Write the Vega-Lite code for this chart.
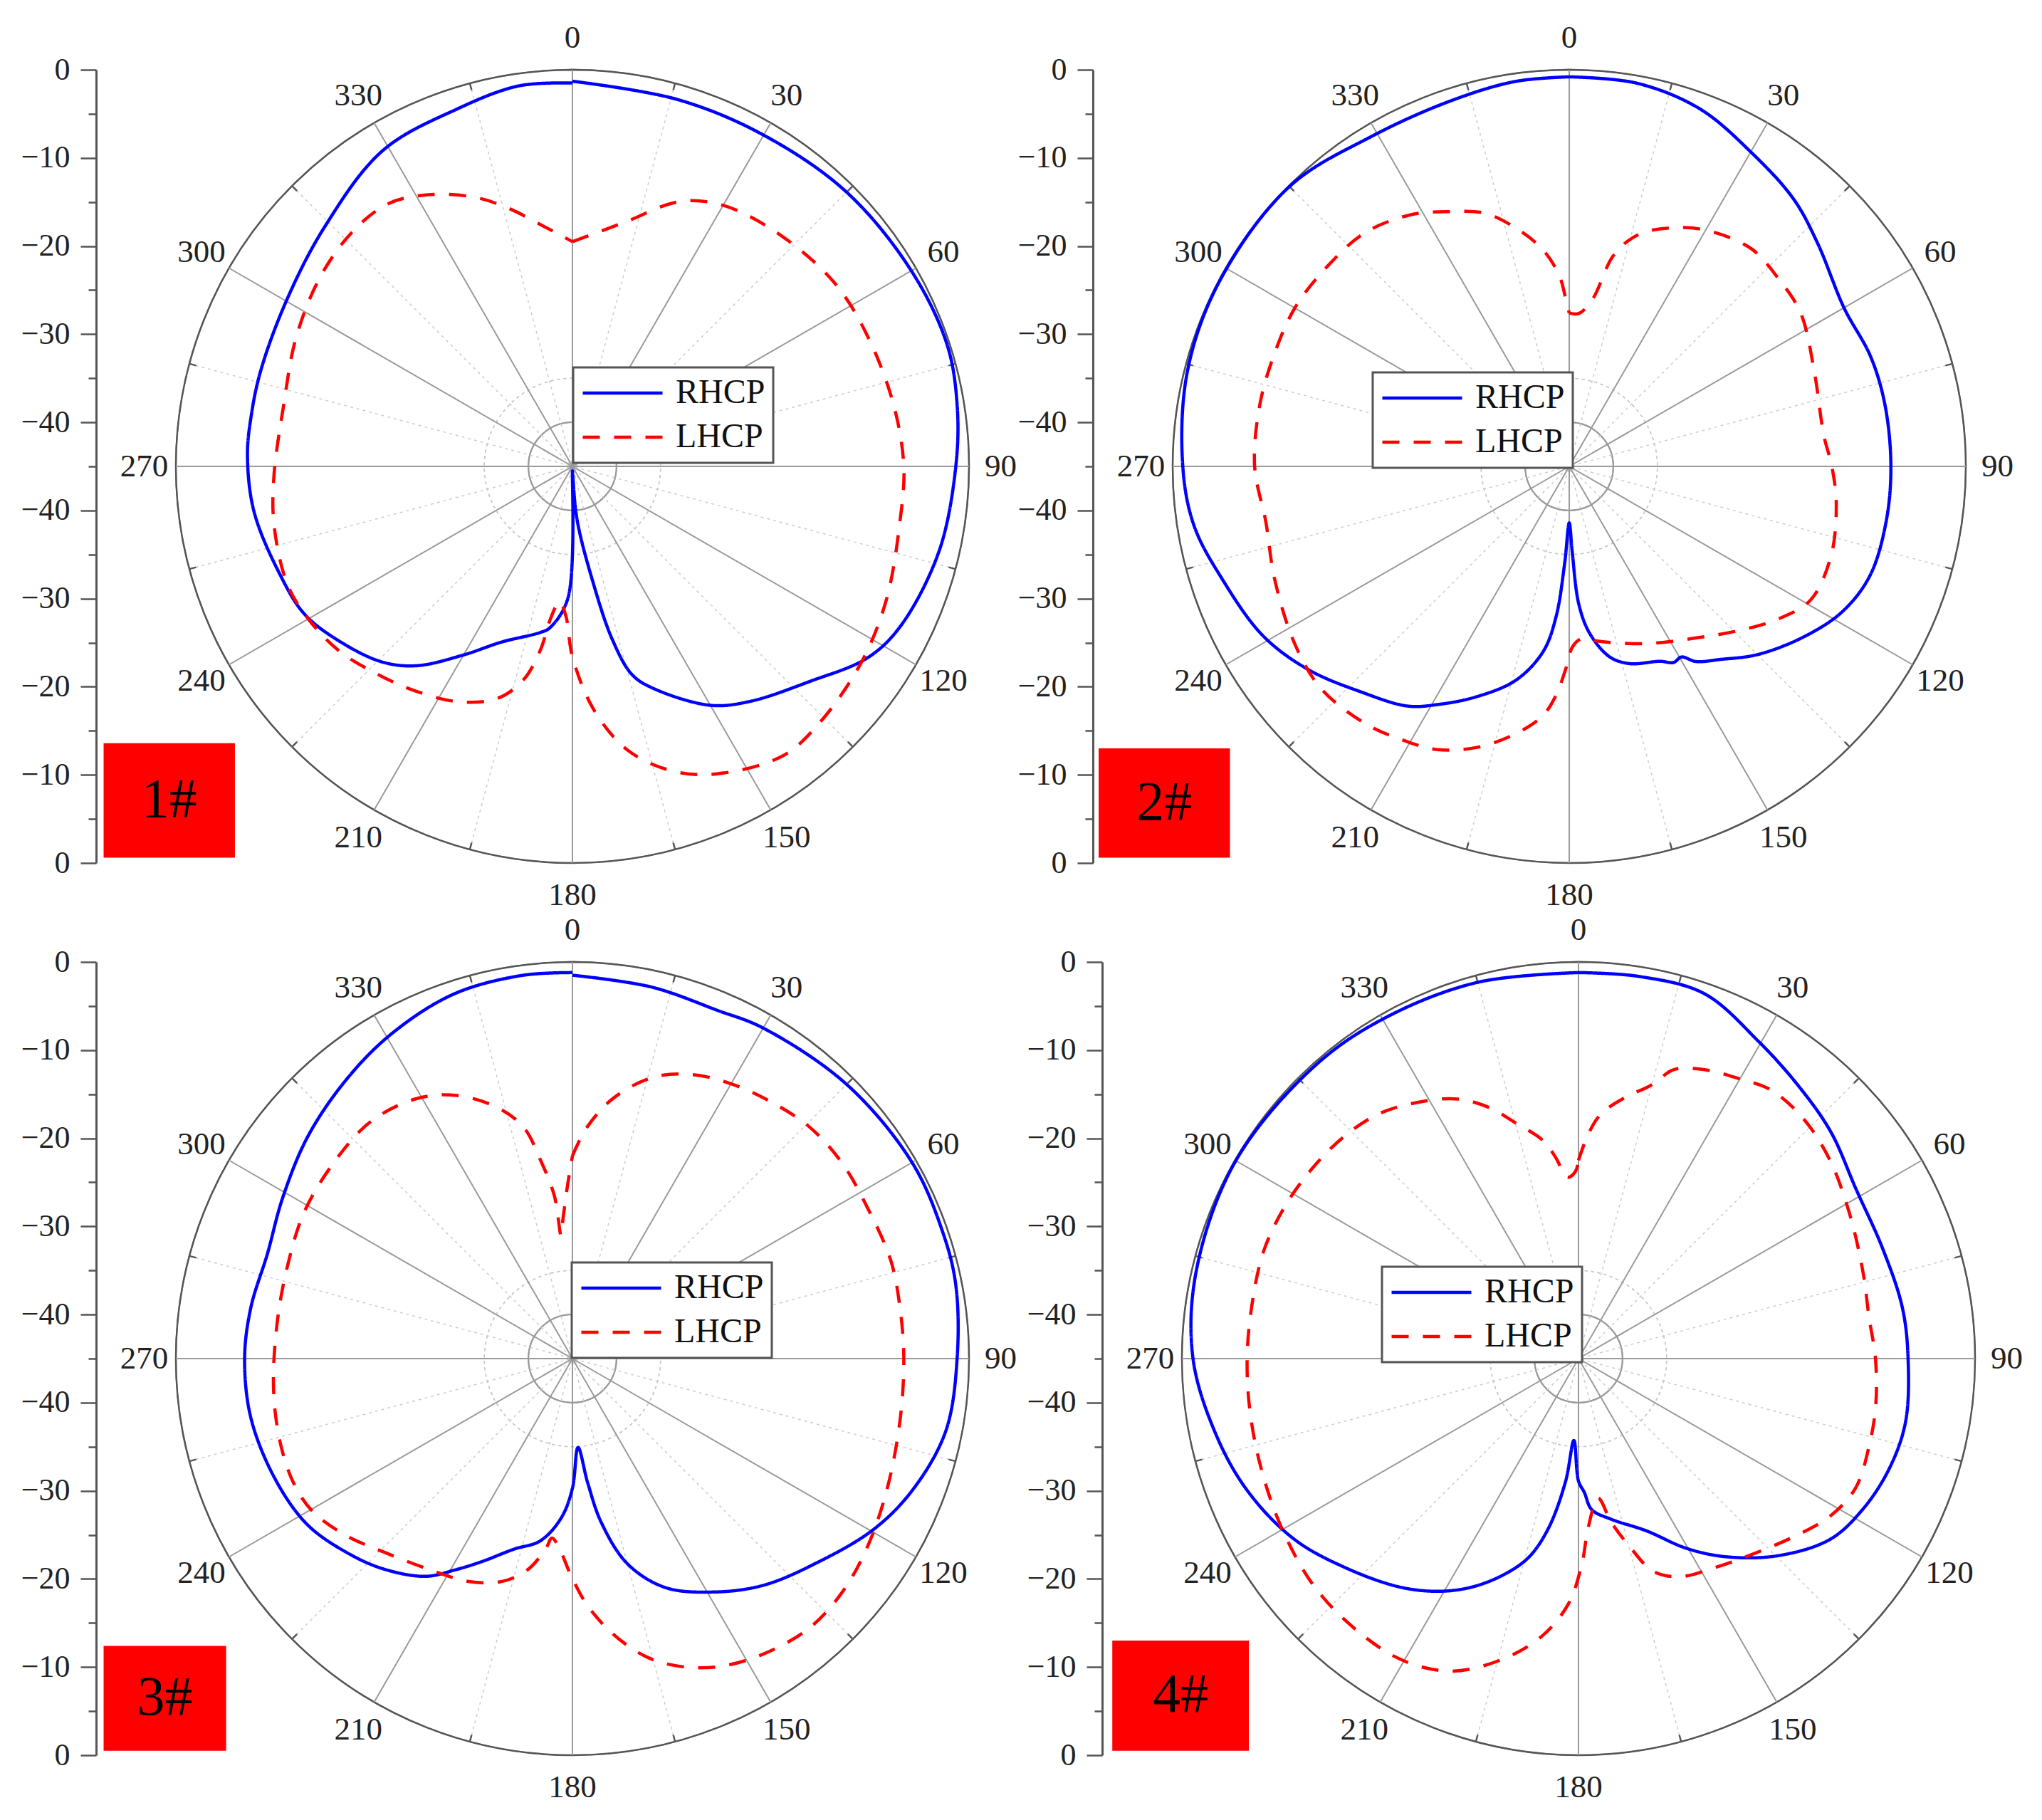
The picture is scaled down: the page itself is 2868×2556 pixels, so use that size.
{
"$schema": "https://vega.github.io/schema/vega-lite/v6.json",
"background": "#ffffff",
"padding": {"left": 29, "top": 31, "right": 5, "bottom": 5},
"config": {
  "view": {"stroke": null},
  "font": "Liberation Serif",
  "legend": {"symbolType": "stroke", "symbolSize": 12544, "symbolStrokeWidth": 4.5, "labelFontSize": 48, "labelFont": "Liberation Serif", "labelColor": "#111111", "labelOffset": 16, "padding": 11, "rowPadding": 12, "clipHeight": 50, "fillColor": "#ffffff", "strokeColor": "#555555", "strokeWidth": 3, "symbolOffset": 0, "labelLimit": 0}
},
"datasets": {
  "rings": [{"db":-40,"k":"solid"},{"db":-35,"k":"dot"},{"db":-30,"k":"solid"},{"db":-25,"k":"dot"},{"db":-20,"k":"solid"},{"db":-15,"k":"dot"},{"db":-10,"k":"solid"},{"db":-5,"k":"dot"},{"db":0,"k":"outer"}],
  "spokes": [{"a":0},{"a":15},{"a":30},{"a":45},{"a":60},{"a":75},{"a":90},{"a":105},{"a":120},{"a":135},{"a":150},{"a":165},{"a":180},{"a":195},{"a":210},{"a":225},{"a":240},{"a":255},{"a":270},{"a":285},{"a":300},{"a":315},{"a":330},{"a":345}],
  "panels": [{"p":1,"name":"1#"},{"p":2,"name":"2#"},{"p":3,"name":"3#"},{"p":4,"name":"4#"}],
  "curves": [
{"p":1,"s":"RHCP","a":0,"g":-1.3},{"p":1,"s":"RHCP","a":16,"g":-1.7},{"p":1,"s":"RHCP","a":30,"g":-1.6},{"p":1,"s":"RHCP","a":45,"g":-1.0},{"p":1,"s":"RHCP","a":60,"g":-0.6},{"p":1,"s":"RHCP","a":72,"g":-0.3},{"p":1,"s":"RHCP","a":81,"g":-0.8},{"p":1,"s":"RHCP","a":90,"g":-1.5},{"p":1,"s":"RHCP","a":103,"g":-2.3},{"p":1,"s":"RHCP","a":116,"g":-3.6},{"p":1,"s":"RHCP","a":123,"g":-5.1},{"p":1,"s":"RHCP","a":132,"g":-8.6},{"p":1,"s":"RHCP","a":143,"g":-11.6},{"p":1,"s":"RHCP","a":150,"g":-13.7},{"p":1,"s":"RHCP","a":160,"g":-18.2},{"p":1,"s":"RHCP","a":164,"g":-20.4},{"p":1,"s":"RHCP","a":167,"g":-24.8},{"p":1,"s":"RHCP","a":170,"g":-31.8},{"p":1,"s":"RHCP","a":175,"g":-38.9},{"p":1,"s":"RHCP","a":178,"g":-44},{"p":1,"s":"RHCP","a":180,"g":-44.5},{"p":1,"s":"RHCP","a":182,"g":-30.0},{"p":1,"s":"RHCP","a":188,"g":-26.5},{"p":1,"s":"RHCP","a":191,"g":-25.8},{"p":1,"s":"RHCP","a":202,"g":-23.5},{"p":1,"s":"RHCP","a":210,"g":-20.3},{"p":1,"s":"RHCP","a":218,"g":-16.3},{"p":1,"s":"RHCP","a":224,"g":-14.1},{"p":1,"s":"RHCP","a":232,"g":-12.2},{"p":1,"s":"RHCP","a":241,"g":-10.3},{"p":1,"s":"RHCP","a":250,"g":-9.6},{"p":1,"s":"RHCP","a":262,"g":-8.5},{"p":1,"s":"RHCP","a":272,"g":-8.1},{"p":1,"s":"RHCP","a":279,"g":-8.1},{"p":1,"s":"RHCP","a":287,"g":-8.0},{"p":1,"s":"RHCP","a":300,"g":-7.5},{"p":1,"s":"RHCP","a":314,"g":-5.9},{"p":1,"s":"RHCP","a":329,"g":-3.2},{"p":1,"s":"RHCP","a":342,"g":-2.4},{"p":1,"s":"RHCP","a":352,"g":-1.4},{"p":1,"s":"RHCP","a":360,"g":-1.5},
{"p":1,"s":"LHCP","a":0,"g":-19.5},{"p":1,"s":"LHCP","a":12,"g":-16.7},{"p":1,"s":"LHCP","a":22,"g":-12.6},{"p":1,"s":"LHCP","a":30,"g":-10.8},{"p":1,"s":"LHCP","a":42,"g":-9.7},{"p":1,"s":"LHCP","a":55,"g":-8.7},{"p":1,"s":"LHCP","a":66,"g":-8.4},{"p":1,"s":"LHCP","a":79,"g":-7.9},{"p":1,"s":"LHCP","a":90,"g":-7.4},{"p":1,"s":"LHCP","a":100,"g":-7.3},{"p":1,"s":"LHCP","a":113,"g":-6.3},{"p":1,"s":"LHCP","a":124,"g":-5.4},{"p":1,"s":"LHCP","a":136,"g":-4.6},{"p":1,"s":"LHCP","a":144,"g":-4.4},{"p":1,"s":"LHCP","a":155,"g":-6.5},{"p":1,"s":"LHCP","a":162,"g":-8.7},{"p":1,"s":"LHCP","a":169,"g":-12.2},{"p":1,"s":"LHCP","a":175,"g":-17.3},{"p":1,"s":"LHCP","a":180,"g":-23.4},{"p":1,"s":"LHCP","a":182.5,"g":-28},{"p":1,"s":"LHCP","a":185.5,"g":-29.6},{"p":1,"s":"LHCP","a":188,"g":-27.8},{"p":1,"s":"LHCP","a":190,"g":-23.7},{"p":1,"s":"LHCP","a":193,"g":-20.1},{"p":1,"s":"LHCP","a":198,"g":-17.3},{"p":1,"s":"LHCP","a":206,"g":-15.3},{"p":1,"s":"LHCP","a":215,"g":-13.9},{"p":1,"s":"LHCP","a":223,"g":-12.7},{"p":1,"s":"LHCP","a":232,"g":-11.2},{"p":1,"s":"LHCP","a":241,"g":-10.3},{"p":1,"s":"LHCP","a":248,"g":-10.0},{"p":1,"s":"LHCP","a":259,"g":-10.5},{"p":1,"s":"LHCP","a":268,"g":-11.1},{"p":1,"s":"LHCP","a":282,"g":-11.5},{"p":1,"s":"LHCP","a":295,"g":-10.4},{"p":1,"s":"LHCP","a":307,"g":-9.2},{"p":1,"s":"LHCP","a":317,"g":-8.5},{"p":1,"s":"LHCP","a":325,"g":-8.6},{"p":1,"s":"LHCP","a":332,"g":-10.1},{"p":1,"s":"LHCP","a":340,"g":-12.5},{"p":1,"s":"LHCP","a":346,"g":-14.8},{"p":1,"s":"LHCP","a":353,"g":-17.5},{"p":1,"s":"LHCP","a":360,"g":-19.5},
{"p":2,"s":"RHCP","a":0,"g":-0.8},{"p":2,"s":"RHCP","a":10,"g":-0.85},{"p":2,"s":"RHCP","a":20,"g":-1.8},{"p":2,"s":"RHCP","a":30,"g":-3.8},{"p":2,"s":"RHCP","a":40,"g":-5.4},{"p":2,"s":"RHCP","a":48,"g":-7.1},{"p":2,"s":"RHCP","a":60,"g":-9.0},{"p":2,"s":"RHCP","a":70,"g":-8.6},{"p":2,"s":"RHCP","a":79,"g":-8.5},{"p":2,"s":"RHCP","a":90,"g":-8.5},{"p":2,"s":"RHCP","a":100,"g":-8.5},{"p":2,"s":"RHCP","a":110,"g":-8.7},{"p":2,"s":"RHCP","a":118,"g":-9.9},{"p":2,"s":"RHCP","a":126,"g":-12.1},{"p":2,"s":"RHCP","a":135,"g":-14.8},{"p":2,"s":"RHCP","a":142,"g":-17.2},{"p":2,"s":"RHCP","a":147,"g":-18.6},{"p":2,"s":"RHCP","a":149.5,"g":-19.9},{"p":2,"s":"RHCP","a":152,"g":-19.8},{"p":2,"s":"RHCP","a":155,"g":-20.6},{"p":2,"s":"RHCP","a":163,"g":-21.6},{"p":2,"s":"RHCP","a":168,"g":-22.9},{"p":2,"s":"RHCP","a":173,"g":-25.9},{"p":2,"s":"RHCP","a":176,"g":-29.3},{"p":2,"s":"RHCP","a":178,"g":-35.3},{"p":2,"s":"RHCP","a":180,"g":-38.6},{"p":2,"s":"RHCP","a":182.7,"g":-34},{"p":2,"s":"RHCP","a":185,"g":-27.9},{"p":2,"s":"RHCP","a":188,"g":-23.8},{"p":2,"s":"RHCP","a":194,"g":-20.0},{"p":2,"s":"RHCP","a":202,"g":-16.8},{"p":2,"s":"RHCP","a":209,"g":-14.1},{"p":2,"s":"RHCP","a":214,"g":-12.2},{"p":2,"s":"RHCP","a":223,"g":-10.1},{"p":2,"s":"RHCP","a":232,"g":-7.5},{"p":2,"s":"RHCP","a":241,"g":-5.3},{"p":2,"s":"RHCP","a":252,"g":-3.6},{"p":2,"s":"RHCP","a":261,"g":-1.9},{"p":2,"s":"RHCP","a":270,"g":-1.15},{"p":2,"s":"RHCP","a":284,"g":-0.35},{"p":2,"s":"RHCP","a":298,"g":-0.1},{"p":2,"s":"RHCP","a":315,"g":-0.1},{"p":2,"s":"RHCP","a":329,"g":-1.35},{"p":2,"s":"RHCP","a":342,"g":-1.4},{"p":2,"s":"RHCP","a":352,"g":-0.9},{"p":2,"s":"RHCP","a":360,"g":-0.8},
{"p":2,"s":"LHCP","a":0,"g":-27.6},{"p":2,"s":"LHCP","a":3.7,"g":-27.6},{"p":2,"s":"LHCP","a":8,"g":-25.8},{"p":2,"s":"LHCP","a":12,"g":-20.4},{"p":2,"s":"LHCP","a":17,"g":-17.4},{"p":2,"s":"LHCP","a":25,"g":-15.1},{"p":2,"s":"LHCP","a":31.5,"g":-13.8},{"p":2,"s":"LHCP","a":40,"g":-12.8},{"p":2,"s":"LHCP","a":48,"g":-13.1},{"p":2,"s":"LHCP","a":56.5,"g":-13.5},{"p":2,"s":"LHCP","a":69,"g":-15.2},{"p":2,"s":"LHCP","a":83,"g":-15.9},{"p":2,"s":"LHCP","a":90,"g":-15.2},{"p":2,"s":"LHCP","a":98,"g":-14.4},{"p":2,"s":"LHCP","a":109,"g":-13.6},{"p":2,"s":"LHCP","a":119,"g":-13.7},{"p":2,"s":"LHCP","a":126,"g":-15.6},{"p":2,"s":"LHCP","a":134,"g":-18.2},{"p":2,"s":"LHCP","a":144,"g":-20.9},{"p":2,"s":"LHCP","a":156,"g":-23.0},{"p":2,"s":"LHCP","a":167,"g":-24.5},{"p":2,"s":"LHCP","a":173.6,"g":-25.2},{"p":2,"s":"LHCP","a":176,"g":-25.4},{"p":2,"s":"LHCP","a":179,"g":-24.5},{"p":2,"s":"LHCP","a":181,"g":-22},{"p":2,"s":"LHCP","a":183.3,"g":-19.0},{"p":2,"s":"LHCP","a":186,"g":-16.6},{"p":2,"s":"LHCP","a":191,"g":-14.2},{"p":2,"s":"LHCP","a":198,"g":-11.5},{"p":2,"s":"LHCP","a":205,"g":-9.55},{"p":2,"s":"LHCP","a":211,"g":-8.7},{"p":2,"s":"LHCP","a":218,"g":-7.8},{"p":2,"s":"LHCP","a":228,"g":-7.2},{"p":2,"s":"LHCP","a":237,"g":-7.9},{"p":2,"s":"LHCP","a":249,"g":-9.2},{"p":2,"s":"LHCP","a":259.5,"g":-10.0},{"p":2,"s":"LHCP","a":270,"g":-9.3},{"p":2,"s":"LHCP","a":281,"g":-9.2},{"p":2,"s":"LHCP","a":290,"g":-9.2},{"p":2,"s":"LHCP","a":300,"g":-9.05},{"p":2,"s":"LHCP","a":310,"g":-9.4},{"p":2,"s":"LHCP","a":319,"g":-9.8},{"p":2,"s":"LHCP","a":328,"g":-11.3},{"p":2,"s":"LHCP","a":335,"g":-13.1},{"p":2,"s":"LHCP","a":341.5,"g":-14.7},{"p":2,"s":"LHCP","a":347.6,"g":-17.4},{"p":2,"s":"LHCP","a":353,"g":-20.2},{"p":2,"s":"LHCP","a":357,"g":-23.3},{"p":2,"s":"LHCP","a":359,"g":-26.3},{"p":2,"s":"LHCP","a":360,"g":-27.6},
{"p":3,"s":"RHCP","a":0,"g":-1.5},{"p":3,"s":"RHCP","a":12,"g":-1.9},{"p":3,"s":"RHCP","a":22.6,"g":-2.2},{"p":3,"s":"RHCP","a":30,"g":-1.7},{"p":3,"s":"RHCP","a":45,"g":-1.0},{"p":3,"s":"RHCP","a":60,"g":-0.5},{"p":3,"s":"RHCP","a":71,"g":-0.6},{"p":3,"s":"RHCP","a":79,"g":-0.7},{"p":3,"s":"RHCP","a":90,"g":-1.35},{"p":3,"s":"RHCP","a":101,"g":-1.85},{"p":3,"s":"RHCP","a":111,"g":-3.6},{"p":3,"s":"RHCP","a":119.5,"g":-5.7},{"p":3,"s":"RHCP","a":130,"g":-8.9},{"p":3,"s":"RHCP","a":140,"g":-11.4},{"p":3,"s":"RHCP","a":149,"g":-14.1},{"p":3,"s":"RHCP","a":158,"g":-17.0},{"p":3,"s":"RHCP","a":165,"g":-20.9},{"p":3,"s":"RHCP","a":170,"g":-26.1},{"p":3,"s":"RHCP","a":173,"g":-30.8},{"p":3,"s":"RHCP","a":176.4,"g":-34.9},{"p":3,"s":"RHCP","a":180,"g":-30.3},{"p":3,"s":"RHCP","a":184,"g":-26.9},{"p":3,"s":"RHCP","a":190,"g":-24.0},{"p":3,"s":"RHCP","a":197,"g":-22.4},{"p":3,"s":"RHCP","a":204,"g":-19.8},{"p":3,"s":"RHCP","a":209,"g":-17.6},{"p":3,"s":"RHCP","a":214,"g":-15.2},{"p":3,"s":"RHCP","a":222,"g":-12.9},{"p":3,"s":"RHCP","a":229.5,"g":-11.2},{"p":3,"s":"RHCP","a":238,"g":-9.5},{"p":3,"s":"RHCP","a":248,"g":-8.6},{"p":3,"s":"RHCP","a":259.5,"g":-7.9},{"p":3,"s":"RHCP","a":270,"g":-7.8},{"p":3,"s":"RHCP","a":279,"g":-8.05},{"p":3,"s":"RHCP","a":289,"g":-8.4},{"p":3,"s":"RHCP","a":299,"g":-7.4},{"p":3,"s":"RHCP","a":310,"g":-5.8},{"p":3,"s":"RHCP","a":321,"g":-4.25},{"p":3,"s":"RHCP","a":331,"g":-2.8},{"p":3,"s":"RHCP","a":342,"g":-1.5},{"p":3,"s":"RHCP","a":352.5,"g":-1.15},{"p":3,"s":"RHCP","a":360,"g":-1.2},
{"p":3,"s":"LHCP","a":0,"g":-22.0},{"p":3,"s":"LHCP","a":3.6,"g":-18.7},{"p":3,"s":"LHCP","a":9,"g":-15.05},{"p":3,"s":"LHCP","a":16,"g":-11.8},{"p":3,"s":"LHCP","a":23,"g":-10.0},{"p":3,"s":"LHCP","a":30,"g":-9.0},{"p":3,"s":"LHCP","a":37.5,"g":-8.2},{"p":3,"s":"LHCP","a":45.6,"g":-7.4},{"p":3,"s":"LHCP","a":54,"g":-7.2},{"p":3,"s":"LHCP","a":63,"g":-7.4},{"p":3,"s":"LHCP","a":73,"g":-7.2},{"p":3,"s":"LHCP","a":82,"g":-7.4},{"p":3,"s":"LHCP","a":90,"g":-7.4},{"p":3,"s":"LHCP","a":100,"g":-7.2},{"p":3,"s":"LHCP","a":112,"g":-6.4},{"p":3,"s":"LHCP","a":122.5,"g":-5.3},{"p":3,"s":"LHCP","a":131,"g":-4.5},{"p":3,"s":"LHCP","a":139,"g":-4.3},{"p":3,"s":"LHCP","a":148,"g":-5.2},{"p":3,"s":"LHCP","a":155,"g":-6.4},{"p":3,"s":"LHCP","a":161,"g":-8.1},{"p":3,"s":"LHCP","a":166,"g":-10.1},{"p":3,"s":"LHCP","a":171.6,"g":-13.4},{"p":3,"s":"LHCP","a":176.6,"g":-17},{"p":3,"s":"LHCP","a":180.4,"g":-20.4},{"p":3,"s":"LHCP","a":183.4,"g":-23},{"p":3,"s":"LHCP","a":186.5,"g":-24.5},{"p":3,"s":"LHCP","a":188,"g":-23.2},{"p":3,"s":"LHCP","a":192,"g":-20.5},{"p":3,"s":"LHCP","a":197.5,"g":-18.5},{"p":3,"s":"LHCP","a":205,"g":-17.1},{"p":3,"s":"LHCP","a":214,"g":-16.1},{"p":3,"s":"LHCP","a":224,"g":-14.4},{"p":3,"s":"LHCP","a":232,"g":-12.4},{"p":3,"s":"LHCP","a":239.5,"g":-10.8},{"p":3,"s":"LHCP","a":246,"g":-10.35},{"p":3,"s":"LHCP","a":254,"g":-10.5},{"p":3,"s":"LHCP","a":264,"g":-10.9},{"p":3,"s":"LHCP","a":276.5,"g":-11.25},{"p":3,"s":"LHCP","a":288,"g":-11.0},{"p":3,"s":"LHCP","a":299,"g":-10.3},{"p":3,"s":"LHCP","a":311,"g":-9.9},{"p":3,"s":"LHCP","a":320,"g":-9.7},{"p":3,"s":"LHCP","a":329,"g":-10.6},{"p":3,"s":"LHCP","a":336,"g":-12.3},{"p":3,"s":"LHCP","a":343,"g":-15.1},{"p":3,"s":"LHCP","a":348,"g":-18.1},{"p":3,"s":"LHCP","a":351,"g":-22.4},{"p":3,"s":"LHCP","a":353.7,"g":-26.5},{"p":3,"s":"LHCP","a":354.7,"g":-31},{"p":3,"s":"LHCP","a":356,"g":-29.3},{"p":3,"s":"LHCP","a":358.4,"g":-25.3},{"p":3,"s":"LHCP","a":360,"g":-22.0},
{"p":4,"s":"RHCP","a":0,"g":-1.2},{"p":4,"s":"RHCP","a":9,"g":-1.1},{"p":4,"s":"RHCP","a":19,"g":-1.2},{"p":4,"s":"RHCP","a":29.5,"g":-3.6},{"p":4,"s":"RHCP","a":38.6,"g":-5.2},{"p":4,"s":"RHCP","a":48,"g":-6.5},{"p":4,"s":"RHCP","a":58.6,"g":-8.1},{"p":4,"s":"RHCP","a":70,"g":-8.3},{"p":4,"s":"RHCP","a":81,"g":-7.8},{"p":4,"s":"RHCP","a":90,"g":-7.6},{"p":4,"s":"RHCP","a":101,"g":-7.2},{"p":4,"s":"RHCP","a":109.6,"g":-7.6},{"p":4,"s":"RHCP","a":118,"g":-8.5},{"p":4,"s":"RHCP","a":125.7,"g":-9.85},{"p":4,"s":"RHCP","a":134.7,"g":-13.2},{"p":4,"s":"RHCP","a":143.4,"g":-17},{"p":4,"s":"RHCP","a":150.4,"g":-20.25},{"p":4,"s":"RHCP","a":158.5,"g":-24.0},{"p":4,"s":"RHCP","a":168.5,"g":-26.4},{"p":4,"s":"RHCP","a":175,"g":-27.8},{"p":4,"s":"RHCP","a":177.5,"g":-29.8},{"p":4,"s":"RHCP","a":180,"g":-31.1},{"p":4,"s":"RHCP","a":183.2,"g":-35.7},{"p":4,"s":"RHCP","a":186,"g":-31.0},{"p":4,"s":"RHCP","a":190,"g":-25.5},{"p":4,"s":"RHCP","a":194,"g":-21.8},{"p":4,"s":"RHCP","a":199,"g":-19.1},{"p":4,"s":"RHCP","a":205,"g":-16.4},{"p":4,"s":"RHCP","a":211,"g":-14.2},{"p":4,"s":"RHCP","a":218,"g":-12.1},{"p":4,"s":"RHCP","a":228,"g":-9.5},{"p":4,"s":"RHCP","a":237.5,"g":-6.8},{"p":4,"s":"RHCP","a":248,"g":-4.6},{"p":4,"s":"RHCP","a":258,"g":-3.0},{"p":4,"s":"RHCP","a":270,"g":-1.26},{"p":4,"s":"RHCP","a":283,"g":-0.5},{"p":4,"s":"RHCP","a":300,"g":-0.1},{"p":4,"s":"RHCP","a":318,"g":-0.3},{"p":4,"s":"RHCP","a":330.5,"g":-0.55},{"p":4,"s":"RHCP","a":345,"g":-0.8},{"p":4,"s":"RHCP","a":360,"g":-1.2},
{"p":4,"s":"LHCP","a":0,"g":-22.5},{"p":4,"s":"LHCP","a":2.5,"g":-19.5},{"p":4,"s":"LHCP","a":5.3,"g":-17.1},{"p":4,"s":"LHCP","a":10.6,"g":-14.7},{"p":4,"s":"LHCP","a":14.2,"g":-13.25},{"p":4,"s":"LHCP","a":15.8,"g":-12.3},{"p":4,"s":"LHCP","a":18.2,"g":-10.5},{"p":4,"s":"LHCP","a":23.8,"g":-9.2},{"p":4,"s":"LHCP","a":29.75,"g":-8.4},{"p":4,"s":"LHCP","a":35.7,"g":-7.5},{"p":4,"s":"LHCP","a":43.3,"g":-7.7},{"p":4,"s":"LHCP","a":51.7,"g":-8.65},{"p":4,"s":"LHCP","a":61.7,"g":-10.1},{"p":4,"s":"LHCP","a":73,"g":-11.25},{"p":4,"s":"LHCP","a":82,"g":-11.7},{"p":4,"s":"LHCP","a":90,"g":-11.3},{"p":4,"s":"LHCP","a":99,"g":-10.85},{"p":4,"s":"LHCP","a":107,"g":-10.55},{"p":4,"s":"LHCP","a":115,"g":-10.3},{"p":4,"s":"LHCP","a":122,"g":-11.3},{"p":4,"s":"LHCP","a":130,"g":-13.4},{"p":4,"s":"LHCP","a":140,"g":-15.6},{"p":4,"s":"LHCP","a":147,"g":-16.7},{"p":4,"s":"LHCP","a":155,"g":-17.7},{"p":4,"s":"LHCP","a":160.6,"g":-19.4},{"p":4,"s":"LHCP","a":165,"g":-23.1},{"p":4,"s":"LHCP","a":168.7,"g":-26.1},{"p":4,"s":"LHCP","a":172,"g":-29},{"p":4,"s":"LHCP","a":176.7,"g":-25.8},{"p":4,"s":"LHCP","a":179,"g":-21.8},{"p":4,"s":"LHCP","a":182.3,"g":-17.2},{"p":4,"s":"LHCP","a":187.4,"g":-13.3},{"p":4,"s":"LHCP","a":194,"g":-9.9},{"p":4,"s":"LHCP","a":202,"g":-6.75},{"p":4,"s":"LHCP","a":210,"g":-5.4},{"p":4,"s":"LHCP","a":218.6,"g":-5.2},{"p":4,"s":"LHCP","a":229,"g":-5.4},{"p":4,"s":"LHCP","a":240,"g":-6.2},{"p":4,"s":"LHCP","a":251,"g":-6.9},{"p":4,"s":"LHCP","a":261,"g":-7.25},{"p":4,"s":"LHCP","a":270,"g":-7.4},{"p":4,"s":"LHCP","a":279,"g":-7.45},{"p":4,"s":"LHCP","a":289,"g":-7.25},{"p":4,"s":"LHCP","a":298,"g":-7.5},{"p":4,"s":"LHCP","a":306,"g":-7.9},{"p":4,"s":"LHCP","a":314,"g":-8.4},{"p":4,"s":"LHCP","a":321,"g":-9.2},{"p":4,"s":"LHCP","a":328,"g":-10.7},{"p":4,"s":"LHCP","a":335,"g":-12.5},{"p":4,"s":"LHCP","a":340.6,"g":-14.85},{"p":4,"s":"LHCP","a":345,"g":-17.3},{"p":4,"s":"LHCP","a":350.7,"g":-19.9},{"p":4,"s":"LHCP","a":353.5,"g":-22.0},{"p":4,"s":"LHCP","a":356.5,"g":-24.4},{"p":4,"s":"LHCP","a":359,"g":-23.8},{"p":4,"s":"LHCP","a":360,"g":-22.5}
  ]
},
"columns": 2,
"bounds": "flush",
"spacing": {"row": 139, "column": 62},
"resolve": {"scale": {"x": "independent", "y": "independent", "color": "independent", "strokeDash": "independent", "radius": "independent"}, "legend": {"color": "independent", "strokeDash": "independent"}, "axis": {"x": "independent", "y": "independent"}},
"concat": [
{
"width": 1338, "height": 1114,
"resolve": {"axis": {"x": "independent", "y": "independent"}},
"layer": [
{"data": {"name": "rings"}, "transform": [{"filter": "datum.k == 'dot'"}], "mark": {"type": "arc", "filled": false, "stroke": "#c8c8c8", "strokeWidth": 1.5, "strokeDash": [4, 5], "theta": 0, "theta2": 6.2832}, "encoding": {"x": {"datum": 0, "type": "quantitative", "scale": {"domain": [-54.05, 54.05], "nice": false, "zero": false}, "axis": null}, "y": {"datum": 0, "type": "quantitative", "scale": {"domain": [-45, 45], "nice": false, "zero": false}, "axis": null}, "radius": {"field": "db", "type": "quantitative", "scale": {"type": "linear", "domain": [-45, 0], "range": [0, 557], "zero": false, "nice": false}}}},
{"data": {"name": "rings"}, "transform": [{"filter": "datum.k == 'solid'"}], "mark": {"type": "arc", "filled": false, "stroke": "#9a9a9a", "strokeWidth": 2, "theta": 0, "theta2": 6.2832}, "encoding": {"x": {"datum": 0, "type": "quantitative", "scale": {"domain": [-54.05, 54.05], "nice": false, "zero": false}, "axis": null}, "y": {"datum": 0, "type": "quantitative", "scale": {"domain": [-45, 45], "nice": false, "zero": false}, "axis": null}, "radius": {"field": "db", "type": "quantitative", "scale": {"type": "linear", "domain": [-45, 0], "range": [0, 557], "zero": false, "nice": false}}}},
{"data": {"name": "rings"}, "transform": [{"filter": "datum.k == 'outer'"}], "mark": {"type": "arc", "filled": false, "stroke": "#555555", "strokeWidth": 2.5, "theta": 0, "theta2": 6.2832}, "encoding": {"x": {"datum": 0, "type": "quantitative", "scale": {"domain": [-54.05, 54.05], "nice": false, "zero": false}, "axis": null}, "y": {"datum": 0, "type": "quantitative", "scale": {"domain": [-45, 45], "nice": false, "zero": false}, "axis": null}, "radius": {"field": "db", "type": "quantitative", "scale": {"type": "linear", "domain": [-45, 0], "range": [0, 557], "zero": false, "nice": false}}}},
{"data": {"name": "spokes"}, "transform": [{"filter": "datum.a % 30 != 0"}, {"calculate": "45 * sin(datum.a * PI / 180)", "as": "ex"}, {"calculate": "45 * cos(datum.a * PI / 180)", "as": "ey"}], "mark": {"type": "rule", "stroke": "#cccccc", "strokeWidth": 1.5, "strokeDash": [4, 5]}, "encoding": {"x": {"field": "ex", "type": "quantitative", "scale": {"domain": [-54.05, 54.05], "nice": false, "zero": false}, "axis": null}, "y": {"field": "ey", "type": "quantitative", "scale": {"domain": [-45, 45], "nice": false, "zero": false}, "axis": null}, "x2": {"datum": 0}, "y2": {"datum": 0}}},
{"data": {"name": "spokes"}, "transform": [{"filter": "datum.a % 30 != 0"}, {"calculate": "45 * sin(datum.a * PI / 180)", "as": "ex"}, {"calculate": "45 * cos(datum.a * PI / 180)", "as": "ey"}, {"calculate": "44.2 * sin(datum.a * PI / 180)", "as": "ix"}, {"calculate": "44.2 * cos(datum.a * PI / 180)", "as": "iy"}], "mark": {"type": "rule", "stroke": "#555555", "strokeWidth": 2.5}, "encoding": {"x": {"field": "ex", "type": "quantitative", "scale": {"domain": [-54.05, 54.05], "nice": false, "zero": false}, "axis": null}, "y": {"field": "ey", "type": "quantitative", "scale": {"domain": [-45, 45], "nice": false, "zero": false}, "axis": null}, "x2": {"field": "ix"}, "y2": {"field": "iy"}}},
{"data": {"name": "spokes"}, "transform": [{"filter": "datum.a % 30 == 0"}, {"calculate": "45 * sin(datum.a * PI / 180)", "as": "ex"}, {"calculate": "45 * cos(datum.a * PI / 180)", "as": "ey"}], "mark": {"type": "rule", "stroke": "#9a9a9a", "strokeWidth": 2}, "encoding": {"x": {"field": "ex", "type": "quantitative", "scale": {"domain": [-54.05, 54.05], "nice": false, "zero": false}, "axis": null}, "y": {"field": "ey", "type": "quantitative", "scale": {"domain": [-45, 45], "nice": false, "zero": false}, "axis": {"orient": "left", "offset": 0, "values": [-45, -35, -25, -15, -5, 5, 15, 25, 35, 45], "labelExpr": "abs(datum.value) > 44 ? '0' : '−' + (45 - abs(datum.value))", "tickSize": 22, "tickWidth": 2.5, "tickColor": "#555555", "domainColor": "#555555", "domainWidth": 3, "labelFontSize": 44, "labelColor": "#222222", "labelPadding": 15, "grid": false, "title": null, "labelOverlap": false, "labelFlush": false, "labelBound": false}}, "x2": {"datum": 0}, "y2": {"datum": 0}}},
{"data": {"name": "curves"}, "transform": [{"filter": "datum.p == 1"}, {"calculate": "(datum.g + 45) * sin(datum.a * PI / 180)", "as": "cx"}, {"calculate": "(datum.g + 45) * cos(datum.a * PI / 180)", "as": "cy"}], "mark": {"type": "line", "interpolate": "catmull-rom", "strokeWidth": 4.5}, "encoding": {"x": {"field": "cx", "type": "quantitative", "scale": {"domain": [-54.05, 54.05], "nice": false, "zero": false}, "axis": null}, "y": {"field": "cy", "type": "quantitative", "scale": {"domain": [-45, 45], "nice": false, "zero": false}, "axis": null}, "order": {"field": "a", "type": "quantitative"}, "color": {"field": "s", "type": "nominal", "scale": {"domain": ["RHCP", "LHCP"], "range": ["#0000ff", "#ff0000"]}, "legend": {"title": null, "orient": "none", "legendX": 670, "legendY": 418}}, "strokeDash": {"field": "s", "type": "nominal", "scale": {"domain": ["RHCP", "LHCP"], "range": [[1, 0], [24, 20]]}, "legend": {"title": null, "orient": "none", "legendX": 670, "legendY": 418}}}},
{"data": {"name": "spokes"}, "transform": [{"filter": "datum.a % 30 == 0"}, {"calculate": "48.6 * sin(datum.a * PI / 180)", "as": "lx"}, {"calculate": "48.6 * cos(datum.a * PI / 180)", "as": "ly"}], "mark": {"type": "text", "fontSize": 45, "fill": "#222222", "align": "center", "baseline": "middle", "font": "Liberation Serif"}, "encoding": {"x": {"field": "lx", "type": "quantitative", "scale": {"domain": [-54.05, 54.05], "nice": false, "zero": false}, "axis": null}, "y": {"field": "ly", "type": "quantitative", "scale": {"domain": [-45, 45], "nice": false, "zero": false}, "axis": {"orient": "left", "offset": 0, "values": [-40, -30, -20, -10, 0, 10, 20, 30, 40], "tickSize": 11, "tickWidth": 2.5, "tickColor": "#555555", "domain": false, "labels": false, "grid": false, "title": null}}, "text": {"field": "a", "type": "nominal"}}},
{"data": {"name": "panels"}, "transform": [{"filter": "datum.p == 1"}], "mark": {"type": "rect", "fill": "#ff0000"}, "encoding": {"x": {"datum": -53.2, "type": "quantitative", "scale": {"domain": [-54.05, 54.05], "nice": false, "zero": false}, "axis": null}, "x2": {"datum": -38.3}, "y": {"datum": -44.4, "type": "quantitative", "scale": {"domain": [-45, 45], "nice": false, "zero": false}, "axis": null}, "y2": {"datum": -31.4}}},
{"data": {"name": "panels"}, "transform": [{"filter": "datum.p == 1"}], "mark": {"type": "text", "fontSize": 78, "fill": "#000000", "align": "center", "baseline": "middle", "font": "Liberation Serif"}, "encoding": {"x": {"datum": -45.75, "type": "quantitative", "scale": {"domain": [-54.05, 54.05], "nice": false, "zero": false}, "axis": null}, "y": {"datum": -37.9, "type": "quantitative", "scale": {"domain": [-45, 45], "nice": false, "zero": false}, "axis": null}, "text": {"field": "name", "type": "nominal"}}}
]
},
{
"width": 1338, "height": 1114,
"resolve": {"axis": {"x": "independent", "y": "independent"}},
"layer": [
{"data": {"name": "rings"}, "transform": [{"filter": "datum.k == 'dot'"}], "mark": {"type": "arc", "filled": false, "stroke": "#c8c8c8", "strokeWidth": 1.5, "strokeDash": [4, 5], "theta": 0, "theta2": 6.2832}, "encoding": {"x": {"datum": 0, "type": "quantitative", "scale": {"domain": [-54.05, 54.05], "nice": false, "zero": false}, "axis": null}, "y": {"datum": 0, "type": "quantitative", "scale": {"domain": [-45, 45], "nice": false, "zero": false}, "axis": null}, "radius": {"field": "db", "type": "quantitative", "scale": {"type": "linear", "domain": [-45, 0], "range": [0, 557], "zero": false, "nice": false}}}},
{"data": {"name": "rings"}, "transform": [{"filter": "datum.k == 'solid'"}], "mark": {"type": "arc", "filled": false, "stroke": "#9a9a9a", "strokeWidth": 2, "theta": 0, "theta2": 6.2832}, "encoding": {"x": {"datum": 0, "type": "quantitative", "scale": {"domain": [-54.05, 54.05], "nice": false, "zero": false}, "axis": null}, "y": {"datum": 0, "type": "quantitative", "scale": {"domain": [-45, 45], "nice": false, "zero": false}, "axis": null}, "radius": {"field": "db", "type": "quantitative", "scale": {"type": "linear", "domain": [-45, 0], "range": [0, 557], "zero": false, "nice": false}}}},
{"data": {"name": "rings"}, "transform": [{"filter": "datum.k == 'outer'"}], "mark": {"type": "arc", "filled": false, "stroke": "#555555", "strokeWidth": 2.5, "theta": 0, "theta2": 6.2832}, "encoding": {"x": {"datum": 0, "type": "quantitative", "scale": {"domain": [-54.05, 54.05], "nice": false, "zero": false}, "axis": null}, "y": {"datum": 0, "type": "quantitative", "scale": {"domain": [-45, 45], "nice": false, "zero": false}, "axis": null}, "radius": {"field": "db", "type": "quantitative", "scale": {"type": "linear", "domain": [-45, 0], "range": [0, 557], "zero": false, "nice": false}}}},
{"data": {"name": "spokes"}, "transform": [{"filter": "datum.a % 30 != 0"}, {"calculate": "45 * sin(datum.a * PI / 180)", "as": "ex"}, {"calculate": "45 * cos(datum.a * PI / 180)", "as": "ey"}], "mark": {"type": "rule", "stroke": "#cccccc", "strokeWidth": 1.5, "strokeDash": [4, 5]}, "encoding": {"x": {"field": "ex", "type": "quantitative", "scale": {"domain": [-54.05, 54.05], "nice": false, "zero": false}, "axis": null}, "y": {"field": "ey", "type": "quantitative", "scale": {"domain": [-45, 45], "nice": false, "zero": false}, "axis": null}, "x2": {"datum": 0}, "y2": {"datum": 0}}},
{"data": {"name": "spokes"}, "transform": [{"filter": "datum.a % 30 != 0"}, {"calculate": "45 * sin(datum.a * PI / 180)", "as": "ex"}, {"calculate": "45 * cos(datum.a * PI / 180)", "as": "ey"}, {"calculate": "44.2 * sin(datum.a * PI / 180)", "as": "ix"}, {"calculate": "44.2 * cos(datum.a * PI / 180)", "as": "iy"}], "mark": {"type": "rule", "stroke": "#555555", "strokeWidth": 2.5}, "encoding": {"x": {"field": "ex", "type": "quantitative", "scale": {"domain": [-54.05, 54.05], "nice": false, "zero": false}, "axis": null}, "y": {"field": "ey", "type": "quantitative", "scale": {"domain": [-45, 45], "nice": false, "zero": false}, "axis": null}, "x2": {"field": "ix"}, "y2": {"field": "iy"}}},
{"data": {"name": "spokes"}, "transform": [{"filter": "datum.a % 30 == 0"}, {"calculate": "45 * sin(datum.a * PI / 180)", "as": "ex"}, {"calculate": "45 * cos(datum.a * PI / 180)", "as": "ey"}], "mark": {"type": "rule", "stroke": "#9a9a9a", "strokeWidth": 2}, "encoding": {"x": {"field": "ex", "type": "quantitative", "scale": {"domain": [-54.05, 54.05], "nice": false, "zero": false}, "axis": null}, "y": {"field": "ey", "type": "quantitative", "scale": {"domain": [-45, 45], "nice": false, "zero": false}, "axis": {"orient": "left", "offset": 0, "values": [-45, -35, -25, -15, -5, 5, 15, 25, 35, 45], "labelExpr": "abs(datum.value) > 44 ? '0' : '−' + (45 - abs(datum.value))", "tickSize": 22, "tickWidth": 2.5, "tickColor": "#555555", "domainColor": "#555555", "domainWidth": 3, "labelFontSize": 44, "labelColor": "#222222", "labelPadding": 15, "grid": false, "title": null, "labelOverlap": false, "labelFlush": false, "labelBound": false}}, "x2": {"datum": 0}, "y2": {"datum": 0}}},
{"data": {"name": "curves"}, "transform": [{"filter": "datum.p == 2"}, {"calculate": "(datum.g + 45) * sin(datum.a * PI / 180)", "as": "cx"}, {"calculate": "(datum.g + 45) * cos(datum.a * PI / 180)", "as": "cy"}], "mark": {"type": "line", "interpolate": "catmull-rom", "strokeWidth": 4.5}, "encoding": {"x": {"field": "cx", "type": "quantitative", "scale": {"domain": [-54.05, 54.05], "nice": false, "zero": false}, "axis": null}, "y": {"field": "cy", "type": "quantitative", "scale": {"domain": [-45, 45], "nice": false, "zero": false}, "axis": null}, "order": {"field": "a", "type": "quantitative"}, "color": {"field": "s", "type": "nominal", "scale": {"domain": ["RHCP", "LHCP"], "range": ["#0000ff", "#ff0000"]}, "legend": {"title": null, "orient": "none", "legendX": 393, "legendY": 425}}, "strokeDash": {"field": "s", "type": "nominal", "scale": {"domain": ["RHCP", "LHCP"], "range": [[1, 0], [24, 20]]}, "legend": {"title": null, "orient": "none", "legendX": 393, "legendY": 425}}}},
{"data": {"name": "spokes"}, "transform": [{"filter": "datum.a % 30 == 0"}, {"calculate": "48.6 * sin(datum.a * PI / 180)", "as": "lx"}, {"calculate": "48.6 * cos(datum.a * PI / 180)", "as": "ly"}], "mark": {"type": "text", "fontSize": 45, "fill": "#222222", "align": "center", "baseline": "middle", "font": "Liberation Serif"}, "encoding": {"x": {"field": "lx", "type": "quantitative", "scale": {"domain": [-54.05, 54.05], "nice": false, "zero": false}, "axis": null}, "y": {"field": "ly", "type": "quantitative", "scale": {"domain": [-45, 45], "nice": false, "zero": false}, "axis": {"orient": "left", "offset": 0, "values": [-40, -30, -20, -10, 0, 10, 20, 30, 40], "tickSize": 11, "tickWidth": 2.5, "tickColor": "#555555", "domain": false, "labels": false, "grid": false, "title": null}}, "text": {"field": "a", "type": "nominal"}}},
{"data": {"name": "panels"}, "transform": [{"filter": "datum.p == 2"}], "mark": {"type": "rect", "fill": "#ff0000"}, "encoding": {"x": {"datum": -53.4, "type": "quantitative", "scale": {"domain": [-54.05, 54.05], "nice": false, "zero": false}, "axis": null}, "x2": {"datum": -38.5}, "y": {"datum": -44.4, "type": "quantitative", "scale": {"domain": [-45, 45], "nice": false, "zero": false}, "axis": null}, "y2": {"datum": -32.0}}},
{"data": {"name": "panels"}, "transform": [{"filter": "datum.p == 2"}], "mark": {"type": "text", "fontSize": 78, "fill": "#000000", "align": "center", "baseline": "middle", "font": "Liberation Serif"}, "encoding": {"x": {"datum": -45.95, "type": "quantitative", "scale": {"domain": [-54.05, 54.05], "nice": false, "zero": false}, "axis": null}, "y": {"datum": -38.2, "type": "quantitative", "scale": {"domain": [-45, 45], "nice": false, "zero": false}, "axis": null}, "text": {"field": "name", "type": "nominal"}}}
]
},
{
"width": 1338, "height": 1114,
"resolve": {"axis": {"x": "independent", "y": "independent"}},
"layer": [
{"data": {"name": "rings"}, "transform": [{"filter": "datum.k == 'dot'"}], "mark": {"type": "arc", "filled": false, "stroke": "#c8c8c8", "strokeWidth": 1.5, "strokeDash": [4, 5], "theta": 0, "theta2": 6.2832}, "encoding": {"x": {"datum": 0, "type": "quantitative", "scale": {"domain": [-54.05, 54.05], "nice": false, "zero": false}, "axis": null}, "y": {"datum": 0, "type": "quantitative", "scale": {"domain": [-45, 45], "nice": false, "zero": false}, "axis": null}, "radius": {"field": "db", "type": "quantitative", "scale": {"type": "linear", "domain": [-45, 0], "range": [0, 557], "zero": false, "nice": false}}}},
{"data": {"name": "rings"}, "transform": [{"filter": "datum.k == 'solid'"}], "mark": {"type": "arc", "filled": false, "stroke": "#9a9a9a", "strokeWidth": 2, "theta": 0, "theta2": 6.2832}, "encoding": {"x": {"datum": 0, "type": "quantitative", "scale": {"domain": [-54.05, 54.05], "nice": false, "zero": false}, "axis": null}, "y": {"datum": 0, "type": "quantitative", "scale": {"domain": [-45, 45], "nice": false, "zero": false}, "axis": null}, "radius": {"field": "db", "type": "quantitative", "scale": {"type": "linear", "domain": [-45, 0], "range": [0, 557], "zero": false, "nice": false}}}},
{"data": {"name": "rings"}, "transform": [{"filter": "datum.k == 'outer'"}], "mark": {"type": "arc", "filled": false, "stroke": "#555555", "strokeWidth": 2.5, "theta": 0, "theta2": 6.2832}, "encoding": {"x": {"datum": 0, "type": "quantitative", "scale": {"domain": [-54.05, 54.05], "nice": false, "zero": false}, "axis": null}, "y": {"datum": 0, "type": "quantitative", "scale": {"domain": [-45, 45], "nice": false, "zero": false}, "axis": null}, "radius": {"field": "db", "type": "quantitative", "scale": {"type": "linear", "domain": [-45, 0], "range": [0, 557], "zero": false, "nice": false}}}},
{"data": {"name": "spokes"}, "transform": [{"filter": "datum.a % 30 != 0"}, {"calculate": "45 * sin(datum.a * PI / 180)", "as": "ex"}, {"calculate": "45 * cos(datum.a * PI / 180)", "as": "ey"}], "mark": {"type": "rule", "stroke": "#cccccc", "strokeWidth": 1.5, "strokeDash": [4, 5]}, "encoding": {"x": {"field": "ex", "type": "quantitative", "scale": {"domain": [-54.05, 54.05], "nice": false, "zero": false}, "axis": null}, "y": {"field": "ey", "type": "quantitative", "scale": {"domain": [-45, 45], "nice": false, "zero": false}, "axis": null}, "x2": {"datum": 0}, "y2": {"datum": 0}}},
{"data": {"name": "spokes"}, "transform": [{"filter": "datum.a % 30 != 0"}, {"calculate": "45 * sin(datum.a * PI / 180)", "as": "ex"}, {"calculate": "45 * cos(datum.a * PI / 180)", "as": "ey"}, {"calculate": "44.2 * sin(datum.a * PI / 180)", "as": "ix"}, {"calculate": "44.2 * cos(datum.a * PI / 180)", "as": "iy"}], "mark": {"type": "rule", "stroke": "#555555", "strokeWidth": 2.5}, "encoding": {"x": {"field": "ex", "type": "quantitative", "scale": {"domain": [-54.05, 54.05], "nice": false, "zero": false}, "axis": null}, "y": {"field": "ey", "type": "quantitative", "scale": {"domain": [-45, 45], "nice": false, "zero": false}, "axis": null}, "x2": {"field": "ix"}, "y2": {"field": "iy"}}},
{"data": {"name": "spokes"}, "transform": [{"filter": "datum.a % 30 == 0"}, {"calculate": "45 * sin(datum.a * PI / 180)", "as": "ex"}, {"calculate": "45 * cos(datum.a * PI / 180)", "as": "ey"}], "mark": {"type": "rule", "stroke": "#9a9a9a", "strokeWidth": 2}, "encoding": {"x": {"field": "ex", "type": "quantitative", "scale": {"domain": [-54.05, 54.05], "nice": false, "zero": false}, "axis": null}, "y": {"field": "ey", "type": "quantitative", "scale": {"domain": [-45, 45], "nice": false, "zero": false}, "axis": {"orient": "left", "offset": 0, "values": [-45, -35, -25, -15, -5, 5, 15, 25, 35, 45], "labelExpr": "abs(datum.value) > 44 ? '0' : '−' + (45 - abs(datum.value))", "tickSize": 22, "tickWidth": 2.5, "tickColor": "#555555", "domainColor": "#555555", "domainWidth": 3, "labelFontSize": 44, "labelColor": "#222222", "labelPadding": 15, "grid": false, "title": null, "labelOverlap": false, "labelFlush": false, "labelBound": false}}, "x2": {"datum": 0}, "y2": {"datum": 0}}},
{"data": {"name": "curves"}, "transform": [{"filter": "datum.p == 3"}, {"calculate": "(datum.g + 45) * sin(datum.a * PI / 180)", "as": "cx"}, {"calculate": "(datum.g + 45) * cos(datum.a * PI / 180)", "as": "cy"}], "mark": {"type": "line", "interpolate": "catmull-rom", "strokeWidth": 4.5}, "encoding": {"x": {"field": "cx", "type": "quantitative", "scale": {"domain": [-54.05, 54.05], "nice": false, "zero": false}, "axis": null}, "y": {"field": "cy", "type": "quantitative", "scale": {"domain": [-45, 45], "nice": false, "zero": false}, "axis": null}, "order": {"field": "a", "type": "quantitative"}, "color": {"field": "s", "type": "nominal", "scale": {"domain": ["RHCP", "LHCP"], "range": ["#0000ff", "#ff0000"]}, "legend": {"title": null, "orient": "none", "legendX": 668, "legendY": 422}}, "strokeDash": {"field": "s", "type": "nominal", "scale": {"domain": ["RHCP", "LHCP"], "range": [[1, 0], [24, 20]]}, "legend": {"title": null, "orient": "none", "legendX": 668, "legendY": 422}}}},
{"data": {"name": "spokes"}, "transform": [{"filter": "datum.a % 30 == 0"}, {"calculate": "48.6 * sin(datum.a * PI / 180)", "as": "lx"}, {"calculate": "48.6 * cos(datum.a * PI / 180)", "as": "ly"}], "mark": {"type": "text", "fontSize": 45, "fill": "#222222", "align": "center", "baseline": "middle", "font": "Liberation Serif"}, "encoding": {"x": {"field": "lx", "type": "quantitative", "scale": {"domain": [-54.05, 54.05], "nice": false, "zero": false}, "axis": null}, "y": {"field": "ly", "type": "quantitative", "scale": {"domain": [-45, 45], "nice": false, "zero": false}, "axis": {"orient": "left", "offset": 0, "values": [-40, -30, -20, -10, 0, 10, 20, 30, 40], "tickSize": 11, "tickWidth": 2.5, "tickColor": "#555555", "domain": false, "labels": false, "grid": false, "title": null}}, "text": {"field": "a", "type": "nominal"}}},
{"data": {"name": "panels"}, "transform": [{"filter": "datum.p == 3"}], "mark": {"type": "rect", "fill": "#ff0000"}, "encoding": {"x": {"datum": -53.2, "type": "quantitative", "scale": {"domain": [-54.05, 54.05], "nice": false, "zero": false}, "axis": null}, "x2": {"datum": -39.3}, "y": {"datum": -44.5, "type": "quantitative", "scale": {"domain": [-45, 45], "nice": false, "zero": false}, "axis": null}, "y2": {"datum": -32.6}}},
{"data": {"name": "panels"}, "transform": [{"filter": "datum.p == 3"}], "mark": {"type": "text", "fontSize": 78, "fill": "#000000", "align": "center", "baseline": "middle", "font": "Liberation Serif"}, "encoding": {"x": {"datum": -46.25, "type": "quantitative", "scale": {"domain": [-54.05, 54.05], "nice": false, "zero": false}, "axis": null}, "y": {"datum": -38.55, "type": "quantitative", "scale": {"domain": [-45, 45], "nice": false, "zero": false}, "axis": null}, "text": {"field": "name", "type": "nominal"}}}
]
},
{
"width": 1338, "height": 1114,
"resolve": {"axis": {"x": "independent", "y": "independent"}},
"layer": [
{"data": {"name": "rings"}, "transform": [{"filter": "datum.k == 'dot'"}], "mark": {"type": "arc", "filled": false, "stroke": "#c8c8c8", "strokeWidth": 1.5, "strokeDash": [4, 5], "theta": 0, "theta2": 6.2832}, "encoding": {"x": {"datum": 0, "type": "quantitative", "scale": {"domain": [-55.1, 53.0], "nice": false, "zero": false}, "axis": null}, "y": {"datum": 0, "type": "quantitative", "scale": {"domain": [-45, 45], "nice": false, "zero": false}, "axis": null}, "radius": {"field": "db", "type": "quantitative", "scale": {"type": "linear", "domain": [-45, 0], "range": [0, 557], "zero": false, "nice": false}}}},
{"data": {"name": "rings"}, "transform": [{"filter": "datum.k == 'solid'"}], "mark": {"type": "arc", "filled": false, "stroke": "#9a9a9a", "strokeWidth": 2, "theta": 0, "theta2": 6.2832}, "encoding": {"x": {"datum": 0, "type": "quantitative", "scale": {"domain": [-55.1, 53.0], "nice": false, "zero": false}, "axis": null}, "y": {"datum": 0, "type": "quantitative", "scale": {"domain": [-45, 45], "nice": false, "zero": false}, "axis": null}, "radius": {"field": "db", "type": "quantitative", "scale": {"type": "linear", "domain": [-45, 0], "range": [0, 557], "zero": false, "nice": false}}}},
{"data": {"name": "rings"}, "transform": [{"filter": "datum.k == 'outer'"}], "mark": {"type": "arc", "filled": false, "stroke": "#555555", "strokeWidth": 2.5, "theta": 0, "theta2": 6.2832}, "encoding": {"x": {"datum": 0, "type": "quantitative", "scale": {"domain": [-55.1, 53.0], "nice": false, "zero": false}, "axis": null}, "y": {"datum": 0, "type": "quantitative", "scale": {"domain": [-45, 45], "nice": false, "zero": false}, "axis": null}, "radius": {"field": "db", "type": "quantitative", "scale": {"type": "linear", "domain": [-45, 0], "range": [0, 557], "zero": false, "nice": false}}}},
{"data": {"name": "spokes"}, "transform": [{"filter": "datum.a % 30 != 0"}, {"calculate": "45 * sin(datum.a * PI / 180)", "as": "ex"}, {"calculate": "45 * cos(datum.a * PI / 180)", "as": "ey"}], "mark": {"type": "rule", "stroke": "#cccccc", "strokeWidth": 1.5, "strokeDash": [4, 5]}, "encoding": {"x": {"field": "ex", "type": "quantitative", "scale": {"domain": [-55.1, 53.0], "nice": false, "zero": false}, "axis": null}, "y": {"field": "ey", "type": "quantitative", "scale": {"domain": [-45, 45], "nice": false, "zero": false}, "axis": null}, "x2": {"datum": 0}, "y2": {"datum": 0}}},
{"data": {"name": "spokes"}, "transform": [{"filter": "datum.a % 30 != 0"}, {"calculate": "45 * sin(datum.a * PI / 180)", "as": "ex"}, {"calculate": "45 * cos(datum.a * PI / 180)", "as": "ey"}, {"calculate": "44.2 * sin(datum.a * PI / 180)", "as": "ix"}, {"calculate": "44.2 * cos(datum.a * PI / 180)", "as": "iy"}], "mark": {"type": "rule", "stroke": "#555555", "strokeWidth": 2.5}, "encoding": {"x": {"field": "ex", "type": "quantitative", "scale": {"domain": [-55.1, 53.0], "nice": false, "zero": false}, "axis": null}, "y": {"field": "ey", "type": "quantitative", "scale": {"domain": [-45, 45], "nice": false, "zero": false}, "axis": null}, "x2": {"field": "ix"}, "y2": {"field": "iy"}}},
{"data": {"name": "spokes"}, "transform": [{"filter": "datum.a % 30 == 0"}, {"calculate": "45 * sin(datum.a * PI / 180)", "as": "ex"}, {"calculate": "45 * cos(datum.a * PI / 180)", "as": "ey"}], "mark": {"type": "rule", "stroke": "#9a9a9a", "strokeWidth": 2}, "encoding": {"x": {"field": "ex", "type": "quantitative", "scale": {"domain": [-55.1, 53.0], "nice": false, "zero": false}, "axis": null}, "y": {"field": "ey", "type": "quantitative", "scale": {"domain": [-45, 45], "nice": false, "zero": false}, "axis": {"orient": "left", "offset": -13, "values": [-45, -35, -25, -15, -5, 5, 15, 25, 35, 45], "labelExpr": "abs(datum.value) > 44 ? '0' : '−' + (45 - abs(datum.value))", "tickSize": 22, "tickWidth": 2.5, "tickColor": "#555555", "domainColor": "#555555", "domainWidth": 3, "labelFontSize": 44, "labelColor": "#222222", "labelPadding": 15, "grid": false, "title": null, "labelOverlap": false, "labelFlush": false, "labelBound": false}}, "x2": {"datum": 0}, "y2": {"datum": 0}}},
{"data": {"name": "curves"}, "transform": [{"filter": "datum.p == 4"}, {"calculate": "(datum.g + 45) * sin(datum.a * PI / 180)", "as": "cx"}, {"calculate": "(datum.g + 45) * cos(datum.a * PI / 180)", "as": "cy"}], "mark": {"type": "line", "interpolate": "catmull-rom", "strokeWidth": 4.5}, "encoding": {"x": {"field": "cx", "type": "quantitative", "scale": {"domain": [-55.1, 53.0], "nice": false, "zero": false}, "axis": null}, "y": {"field": "cy", "type": "quantitative", "scale": {"domain": [-45, 45], "nice": false, "zero": false}, "axis": null}, "order": {"field": "a", "type": "quantitative"}, "color": {"field": "s", "type": "nominal", "scale": {"domain": ["RHCP", "LHCP"], "range": ["#0000ff", "#ff0000"]}, "legend": {"title": null, "orient": "none", "legendX": 406, "legendY": 428}}, "strokeDash": {"field": "s", "type": "nominal", "scale": {"domain": ["RHCP", "LHCP"], "range": [[1, 0], [24, 20]]}, "legend": {"title": null, "orient": "none", "legendX": 406, "legendY": 428}}}},
{"data": {"name": "spokes"}, "transform": [{"filter": "datum.a % 30 == 0"}, {"calculate": "48.6 * sin(datum.a * PI / 180)", "as": "lx"}, {"calculate": "48.6 * cos(datum.a * PI / 180)", "as": "ly"}], "mark": {"type": "text", "fontSize": 45, "fill": "#222222", "align": "center", "baseline": "middle", "font": "Liberation Serif"}, "encoding": {"x": {"field": "lx", "type": "quantitative", "scale": {"domain": [-55.1, 53.0], "nice": false, "zero": false}, "axis": null}, "y": {"field": "ly", "type": "quantitative", "scale": {"domain": [-45, 45], "nice": false, "zero": false}, "axis": {"orient": "left", "offset": -13, "values": [-40, -30, -20, -10, 0, 10, 20, 30, 40], "tickSize": 11, "tickWidth": 2.5, "tickColor": "#555555", "domain": false, "labels": false, "grid": false, "title": null}}, "text": {"field": "a", "type": "nominal"}}},
{"data": {"name": "panels"}, "transform": [{"filter": "datum.p == 4"}], "mark": {"type": "rect", "fill": "#ff0000"}, "encoding": {"x": {"datum": -52.9, "type": "quantitative", "scale": {"domain": [-55.1, 53.0], "nice": false, "zero": false}, "axis": null}, "x2": {"datum": -37.4}, "y": {"datum": -44.5, "type": "quantitative", "scale": {"domain": [-45, 45], "nice": false, "zero": false}, "axis": null}, "y2": {"datum": -32.0}}},
{"data": {"name": "panels"}, "transform": [{"filter": "datum.p == 4"}], "mark": {"type": "text", "fontSize": 78, "fill": "#000000", "align": "center", "baseline": "middle", "font": "Liberation Serif"}, "encoding": {"x": {"datum": -45.15, "type": "quantitative", "scale": {"domain": [-55.1, 53.0], "nice": false, "zero": false}, "axis": null}, "y": {"datum": -38.25, "type": "quantitative", "scale": {"domain": [-45, 45], "nice": false, "zero": false}, "axis": null}, "text": {"field": "name", "type": "nominal"}}}
]
}
]
}
